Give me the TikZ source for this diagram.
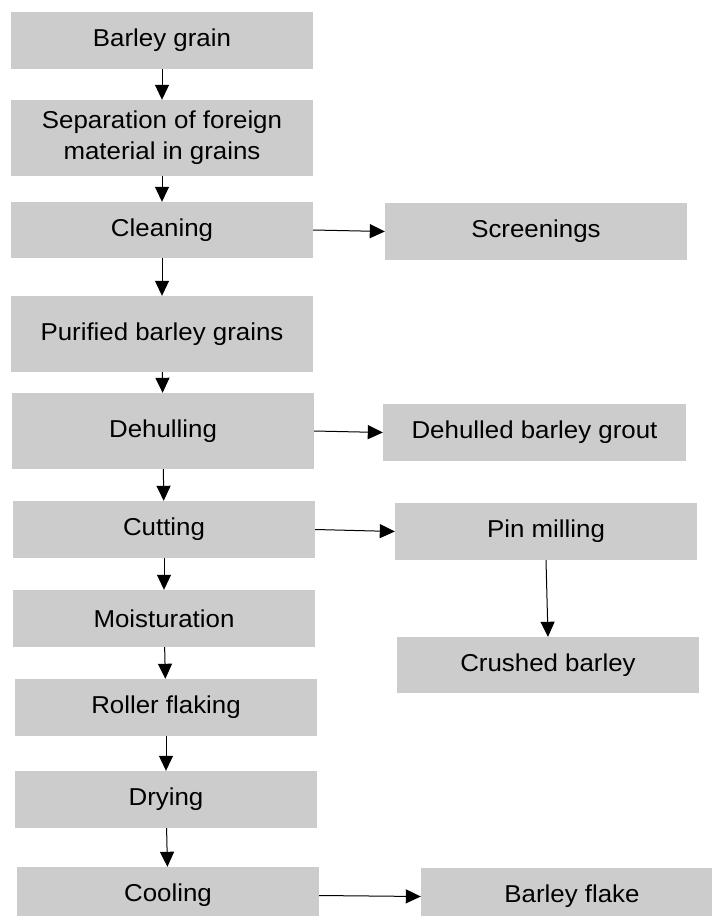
\documentclass[tikz,border=0pt]{standalone}
\usepackage{fontspec}
\setmainfont{Liberation Sans}[FakeStretch=1.06]
\usetikzlibrary{arrows.meta}
\definecolor{boxgray}{HTML}{CCCCCC}
\begin{document}
\begin{tikzpicture}[x=1pt,y=-1pt,
  stepbox/.style={fill=boxgray,draw=none,inner sep=0pt,
    minimum width=302pt,minimum height=57pt,align=center,
    font=\fontsize{24.4pt}{31pt}\selectfont},
  tallbox/.style={stepbox,minimum height=76pt},
  flow/.style={line width=1pt,-{Triangle[length=15pt,width=14pt]}}]
\useasboundingbox (0,0) rectangle (712,916);
\clip (0,0) rectangle (712,916);
% main process column
\node[stepbox] (grain)  at (162,40.5)  {Barley grain};
\node[tallbox] (sep)    at (162,138)   {Separation of foreign\\material in grains};
\node[stepbox,minimum height=56pt] (clean) at (162,230) {Cleaning};
\node[tallbox] (purif)  at (162,334)   {Purified barley grains};
\node[tallbox] (dehull) at (163,431)   {Dehulling};
\node[stepbox] (cut)    at (164,529.5) {Cutting};
\node[stepbox] (moist)  at (164,618.5) {Moisturation};
\node[stepbox] (roller) at (166,707.5) {Roller flaking};
\node[stepbox] (dry)    at (166,799.5) {Drying};
\node[stepbox] (cool)   at (168,895.5) {Cooling};
% side products
\node[stepbox] (screen) at (536,231.5) {Screenings};
\node[stepbox,minimum width=303pt] (grout) at (534.5,432.5) {Dehulled barley grout};
\node[stepbox] (pin)    at (546,531.5) {Pin milling};
\node[stepbox,minimum height=56pt] (crush) at (548,665) {Crushed barley};
\node[stepbox] (flake)  at (572,896.5) {Barley flake};
% connectors
\draw[flow] (grain)  -- (sep);
\draw[flow] (sep)    -- (clean);
\draw[flow] (clean)  -- (purif);
\draw[flow] (purif)  -- (dehull);
\draw[flow] (dehull) -- (cut);
\draw[flow] (cut)    -- (moist);
\draw[flow] (moist)  -- (roller);
\draw[flow] (roller) -- (dry);
\draw[flow] (dry)    -- (cool);
\draw[flow] (clean.east)  -- (screen.west);
\draw[flow] (dehull.east) -- (grout.west);
\draw[flow] (cut.east)    -- (pin.west);
\draw[flow] (pin.south)   -- (crush.north);
\draw[flow] (cool.east)   -- (flake.west);
\end{tikzpicture}
\end{document}
